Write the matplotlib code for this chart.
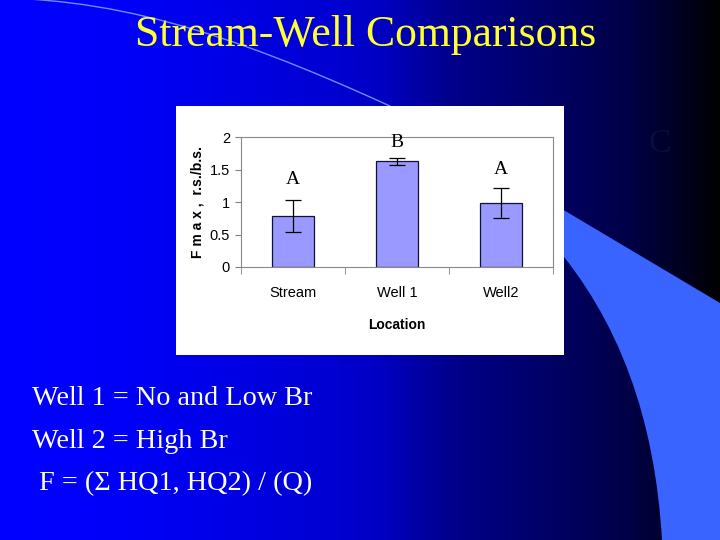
import numpy as np
import matplotlib
matplotlib.use("Agg")
import matplotlib.pyplot as plt
from matplotlib.path import Path
from matplotlib.patches import PathPatch, Rectangle

# data
locations = ["Stream", "Well 1", "Well2"]
fmax = [0.78, 1.625, 0.98]
fmax_err = [0.245, 0.05, 0.23]
sig_letters = ["A", "B", "A"]
letter_y = [1.34, 1.92, 1.50]

notes = ["Well 1 = No and Low Br", "Well 2 = High Br", " F = (\u03a3 HQ1, HQ2) / (Q)"]

sans = ["Liberation Sans", "DejaVu Sans"]
serif = ["Liberation Serif", "DejaVu Serif"]

fig = plt.figure(figsize=(7.2, 5.4), dpi=100)

# slide background (pixel coordinates)
bg = fig.add_axes([0, 0, 1, 1])
bg.set_xlim(0, 720)
bg.set_ylim(540, 0)
bg.axis("off")

xs = np.arange(720)
blue = np.interp(xs, [0, 120, 330, 380, 450, 540, 630, 690, 720],
                 [255, 250, 210, 195, 140, 105, 70, 25, 0])
grad = np.zeros((1, 720, 3))
grad[0, :, 2] = blue / 255
bg.imshow(grad, extent=[0, 720, 540, 0], aspect="auto", zorder=0)

# light band on the right
verts = [(540, 196), (720, 303), (720, 540), (662, 540),
         (655, 420), (620, 320), (550, 240), (540, 196)]
codes = [Path.MOVETO, Path.LINETO, Path.LINETO, Path.LINETO,
         Path.CURVE4, Path.CURVE4, Path.CURVE4, Path.CLOSEPOLY]
bg.add_patch(PathPatch(Path(verts, codes), facecolor="#3a64ff", edgecolor="none", zorder=1))

# thin arc top left
arc = Path([(0, -2), (130, 0), (250, 40), (420, 120)],
           [Path.MOVETO, Path.CURVE4, Path.CURVE4, Path.CURVE4])
bg.add_patch(PathPatch(arc, facecolor="none", edgecolor="#6f8dff", lw=1.0, zorder=1))

# white chart box
bg.add_patch(Rectangle((176, 106), 388, 249, facecolor="white", edgecolor="none", zorder=2))

bg.text(366, 46, "Stream-Well Comparisons", color="#ffff33", fontsize=31.5,
        family=serif, ha="center", va="baseline", zorder=3)
bg.text(660, 152, "C", color="#0c0c3c", fontsize=24, family=serif,
        ha="center", va="baseline", zorder=3)
for i, line in enumerate(notes):
    bg.text(32, 405 + i * 42.5, line, color="white", fontsize=20.3, family=serif,
            ha="left", va="baseline", zorder=3)

# the bar chart
ax = fig.add_axes([241 / 720, 1 - 267 / 540, 312 / 720, 130 / 540])
x = np.arange(len(locations))
ax.bar(x, fmax, width=0.4, color="#9999ff", edgecolor="#111133", linewidth=0.9, zorder=2)
ax.errorbar(x, fmax, yerr=fmax_err, fmt="none", ecolor="black", elinewidth=0.9,
            capsize=5.5, capthick=0.9, zorder=3)
for xi, lab, ly in zip(x, sig_letters, letter_y):
    ax.text(xi, ly, lab, ha="center", va="center", fontsize=14, family=serif)

ax.set_xlim(-0.5, 2.5)
ax.set_ylim(0, 2)
ax.set_yticks([0, 0.5, 1, 1.5, 2])
ax.set_yticklabels(["0", "0.5", "1", "1.5", "2"])
ax.set_xticks(x)
ax.set_xticklabels(locations)
ax.set_xticks([-0.5, 0.5, 1.5, 2.5], minor=True)
ax.tick_params(axis="x", which="major", length=0, pad=14, labelsize=10.5)
ax.tick_params(axis="x", which="minor", length=5, color="#808080", direction="out")
ax.tick_params(axis="y", length=4, color="#808080", pad=4, labelsize=10.5)
for t in ax.get_xticklabels() + ax.get_yticklabels():
    t.set_family(sans)
for s in ax.spines.values():
    s.set_color("#888888")
    s.set_linewidth(0.8)

ax.set_xlabel("Location", fontsize=10, fontweight="bold", family=sans)
ax.xaxis.set_label_coords(0.5, -0.39)
ax.set_ylabel("F m a x ,  r.s./b.s.", fontsize=10, fontweight="bold", family=sans)
ax.yaxis.set_label_coords(-0.118, 0.5)

fig.savefig("out.png", dpi=100)
